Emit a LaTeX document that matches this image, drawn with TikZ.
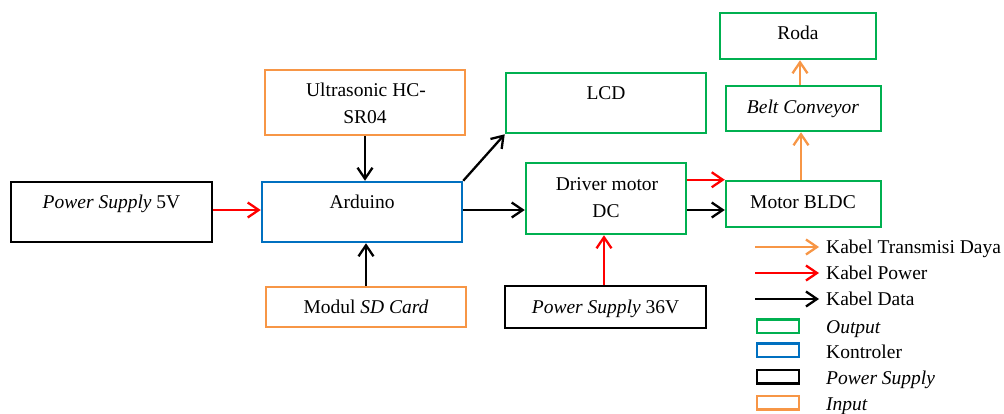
\documentclass[tikz,border=0pt]{standalone}
\usepackage{fontspec}
\setmainfont{Liberation Serif}
\newfontfamily\tnr{Liberation Serif}
\usetikzlibrary{arrows.meta,calc}
\definecolor{cgreen}{RGB}{0,176,80}
\definecolor{cblue}{RGB}{0,112,192}
\definecolor{corange}{RGB}{247,150,70}
\definecolor{cred}{RGB}{255,0,0}
\begin{document}
\begin{tikzpicture}[x=1pt,y=-1pt,
  box/.style={draw, line width=2.5pt, rectangle, inner sep=0pt},
  outbox/.style={box, draw=cgreen},
  ctlbox/.style={box, draw=cblue},
  psbox/.style={box, draw=black},
  inbox/.style={box, draw=corange},
  txt/.style={anchor=base, inner sep=0pt, font=\tnr\fontsize{19.5}{23}\selectfont},
  tip/.style={-{Straight Barb[length=11pt,width=15pt,line width=2.3pt]}, line width=2.3pt},
  data/.style={tip, draw=black},
  power/.style={tip, draw=cred},
  trans/.style={tip, draw=corange},
  legbox/.style={box, minimum width=42, minimum height=13.5}
]
\useasboundingbox (0,0) rectangle (1004,413);
\fill[white] (0,0) rectangle (1004,413);

% boxes
\node[psbox, minimum width=201, minimum height=60] (ps5) at (111.5,212) {};
\node[txt] (ps5t) at (111.5,208) {\itshape Power Supply\upshape{} 5V};

\node[ctlbox, minimum width=200, minimum height=60] (ard) at (362,212) {};
\node[txt] (ardt) at (362,208) {Arduino};

\node[inbox, minimum width=200, minimum height=65] (ult) at (365,102.5) {};
\node[txt] (ult1) at (366,96) {Ultrasonic HC-};
\node[txt] (ult2) at (365,123) {SR04};

\node[inbox, minimum width=200, minimum height=40] (sd) at (366,307) {};
\node[txt] (sdt) at (366,313) {Modul \itshape SD Card};

\node[outbox, minimum width=200, minimum height=60] (lcd) at (606,103) {};
\node[txt] (lcdt) at (606,99) {LCD};

\node[outbox, minimum width=160, minimum height=71] (drv) at (606,198.5) {};
\node[txt] (drv1) at (607,190) {Driver motor};
\node[txt] (drv2) at (606,217) {DC};

\node[psbox, minimum width=201, minimum height=42] (ps36) at (605.5,307) {};
\node[txt] (ps36t) at (605.5,313) {\itshape Power Supply\upshape{} 36V};

\node[outbox, minimum width=156, minimum height=46] (roda) at (798,36) {};
\node[txt] (rodat) at (798,39) {Roda};

\node[outbox, minimum width=155, minimum height=45] (belt) at (803.5,108.5) {};
\node[txt] (beltt) at (803,113) {\itshape Belt Conveyor};

\node[outbox, minimum width=155, minimum height=46] (mot) at (803.5,204) {};
\node[txt] (mott) at (803,208) {Motor BLDC};

% connectors
\draw[power] (ps5.east |- 0,210) -- (ard.west |- 0,210);
\draw[data] (ult.south) -- (ult.south |- ard.north);
\draw[data] (sd.north) -- (sd.north |- ard.south);
\draw[data] (ard.north east) -- (lcd.south west);
\draw[data] (ard.east |- 0,210) -- (drv.west |- 0,210);
\draw[power] (drv.east |- mot.north) -- (mot.north west);
\draw[data] (drv.east |- 0,210) -- (mot.west |- 0,210);
\draw[power] (ps36.north -| 604,0) -- (drv.south -| 604,0);
\draw[trans] (mot.north -| 801,0) -- (belt.south -| 801,0);
\draw[trans] (belt.north -| 800,0) -- (roda.south -| 800,0);

% legend
\coordinate (la1) at (755,247); \coordinate (lb1) at (819,247);
\coordinate (la2) at (755,273); \coordinate (lb2) at (819,273);
\coordinate (la3) at (755,299); \coordinate (lb3) at (819,299);
\draw[trans] (la1) -- (lb1);
\draw[power] (la2) -- (lb2);
\draw[data] (la3) -- (lb3);
\node[txt, anchor=base west] (l1) at (826,253) {Kabel Transmisi Daya};
\node[txt, anchor=base west] (l2) at (826,279) {Kabel Power};
\node[txt, anchor=base west] (l3) at (826,305) {Kabel Data};
\node[legbox, draw=cgreen] (lg1) at (778,326) {};
\node[legbox, draw=cblue] (lg2) at (778,350) {};
\node[legbox, draw=black] (lg3) at (778,376.5) {};
\node[legbox, draw=corange] (lg4) at (778,402.5) {};
\node[txt, anchor=base west] (l4) at (826,333) {\itshape Output};
\node[txt, anchor=base west] (l5) at (826,358) {Kontroler};
\node[txt, anchor=base west] (l6) at (826,384) {\itshape Power Supply};
\node[txt, anchor=base west] (l7) at (826,410) {\itshape Input};
\end{tikzpicture}
\end{document}
